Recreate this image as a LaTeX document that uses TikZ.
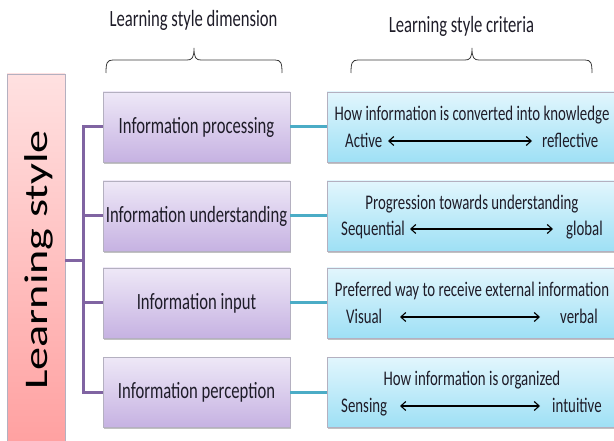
\documentclass[tikz,border=0pt]{standalone}
\usepackage{fontspec}
\setmainfont{Carlito}
\newfontfamily\narrowfont[FakeStretch=0.714]{Carlito}
\newfontfamily\widefont[FakeStretch=1.4]{Carlito}
\usetikzlibrary{shadows,arrows.meta}
\definecolor{txt}{RGB}{30,28,40}
\definecolor{purpTop}{RGB}{238,232,247}
\definecolor{purpBot}{RGB}{198,178,226}
\definecolor{blueTop}{RGB}{226,246,253}
\definecolor{blueBot}{RGB}{158,224,245}
\definecolor{pinkTop}{RGB}{255,225,225}
\definecolor{pinkBot}{RGB}{255,160,160}
\definecolor{boxEdge}{RGB}{180,176,192}
\definecolor{purpLine}{RGB}{128,100,162}
\definecolor{blueLine}{RGB}{75,172,198}
\definecolor{braceCol}{RGB}{60,60,60}
\begin{document}
\begin{tikzpicture}[x=1pt,y=-1pt,
  shad/.style={drop shadow={shadow xshift=1pt,shadow yshift=-2pt,opacity=0.35,fill=black!70}},
  dimbox/.style={draw=boxEdge,line width=0.7pt,top color=purpTop,bottom color=purpBot,
    minimum width=187pt,minimum height=70pt,inner sep=0pt,shad,text=txt,
    font=\narrowfont\fontsize{23.3}{26}\selectfont,text height=1.5ex+8pt,text depth=0.5ex},
  critbox/.style={draw=boxEdge,line width=0.7pt,top color=blueTop,bottom color=blueBot,
    minimum width=291pt,minimum height=70pt,inner sep=0pt,shad},
  crittext/.style={inner sep=0pt,yshift=-4pt,text=txt,font=\narrowfont\fontsize{20.8}{24}\selectfont},
  headtext/.style={inner sep=0pt,yshift=-4pt,text=txt,font=\narrowfont\fontsize{23.3}{26}\selectfont},
  pline/.style={draw=purpLine,line width=3pt},
  bline/.style={draw=blueLine,line width=3pt},
  twoway/.style={line width=1.1pt,{Straight Barb[length=5pt,width=9pt]}-{Straight Barb[length=5pt,width=9pt]}},
  bracestyle/.style={draw=braceCol,line width=0.8pt}
]
\useasboundingbox (0,0) rectangle (614,441);

% left box
\node[draw=boxEdge,line width=0.7pt,top color=pinkTop,bottom color=pinkBot,
  minimum width=58pt,minimum height=373pt,inner sep=0pt] (ls) at (36,260.5) {};
\node[rotate=90,anchor=base,inner sep=0pt,text=black,
  font=\widefont\fontsize{33}{36}\selectfont] (lstext) at (47.5,260) {Learning style};

% headings
\node[headtext,anchor=mid] (h1) at (193.5,20) {Learning style dimension};
\node[headtext,anchor=mid] (h2) at (461.5,26) {Learning style criteria};

% braces
\draw[bracestyle] (106,73) .. controls (106,63) and (107,60) .. (113,60) -- (187,60)
  .. controls (192,60) and (194,58) .. (194,48) .. controls (194,58) and (196,60) .. (201,60)
  -- (275,60) .. controls (281,60) and (282,63) .. (282,73);
\draw[bracestyle] (351,73) .. controls (351,63) and (352,60) .. (358,60) -- (465,60)
  .. controls (470,60) and (472,58) .. (472,48) .. controls (472,58) and (474,60) .. (479,60)
  -- (585,60) .. controls (591,60) and (592,63) .. (592,73);

% dimension boxes
\node[dimbox] (d1) at (196.5,127) {Information processing};
\node[dimbox] (d2) at (196.5,216) {Information understanding};
\node[dimbox] (d3) at (196.5,303) {Information input};
\node[dimbox] (d4) at (196.5,392) {Information perception};

% criteria boxes
\node[critbox] (c1) at (472.5,127) {};
\node[critbox] (c2) at (472.5,216) {};
\node[critbox] (c3) at (472.5,303) {};
\node[critbox] (c4) at (472.5,392) {};

% purple tree
\coordinate (jn) at (83,260.5);
\draw[pline] (d1.west) -- (d1.west -| jn) -- (d4.west -| jn) -- (d4.west);
\draw[pline] (d2.west) -- (d2.west -| jn);
\draw[pline] (d3.west) -- (d3.west -| jn);
\draw[pline] (ls.east) -- (jn);

% blue links
\draw[bline] (d1.east) -- (c1.west);
\draw[bline] (d2.east) -- (c2.west);
\draw[bline] (d3.east) -- (c3.west);
\draw[bline] (d4.east) -- (c4.west);

% criteria texts
\node[crittext,anchor=mid] (t1) at (472,114) {How information is converted into knowledge};
\node[crittext,anchor=mid west] (l1) at (345,141) {Active};
\node[crittext,anchor=mid west] (r1) at (542,141) {reflective};
\coordinate (a1l) at (388,141); \coordinate (a1r) at (532,141);
\draw[twoway] (a1l) -- (a1r);

\node[crittext,anchor=mid] (t2) at (472,203) {Progression towards understanding};
\node[crittext,anchor=mid west] (l2) at (341,229) {Sequential};
\node[crittext,anchor=mid west] (r2) at (566,229) {global};
\coordinate (a2l) at (410,229); \coordinate (a2r) at (553,229);
\draw[twoway] (a2l) -- (a2r);

\node[crittext,anchor=mid] (t3) at (472,290) {Preferred way to receive external information};
\node[crittext,anchor=mid west] (l3) at (346,317) {Visual};
\node[crittext,anchor=mid west] (r3) at (560,317) {verbal};
\coordinate (a3l) at (400,317); \coordinate (a3r) at (540,317);
\draw[twoway] (a3l) -- (a3r);

\node[crittext,anchor=mid] (t4) at (472,379) {How information is organized};
\node[crittext,anchor=mid west] (l4) at (341,406) {Sensing};
\node[crittext,anchor=mid west] (r4) at (552,406) {intuitive};
\coordinate (a4l) at (400,406); \coordinate (a4r) at (540,406);
\draw[twoway] (a4l) -- (a4r);
\end{tikzpicture}
\end{document}
